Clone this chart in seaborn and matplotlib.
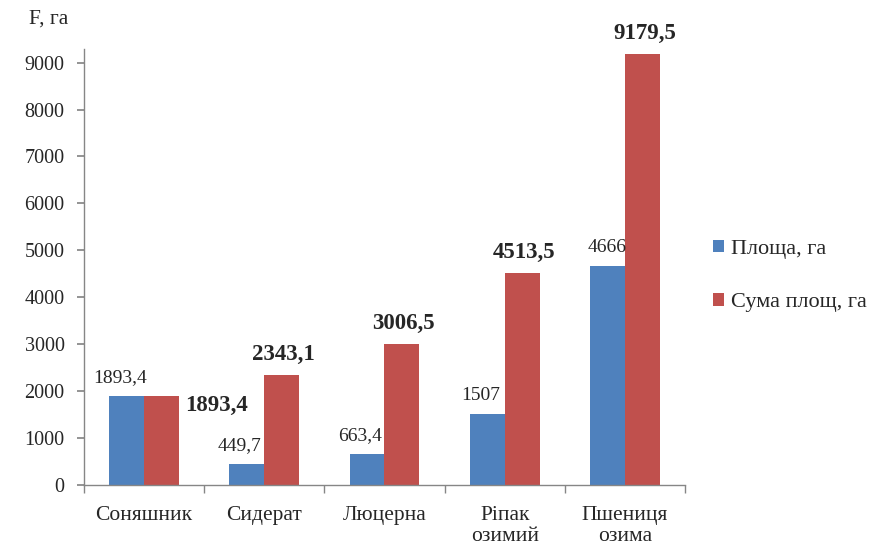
import numpy as np
import pandas as pd
import matplotlib.pyplot as plt
import seaborn as sns

cultures = ["Соняшник", "Сидерат", "Люцерна", "Ріпак\nозимий", "Пшениця\nозима"]
area = [1893.4, 449.7, 663.4, 1507, 4666]
area_sum = [1893.4, 2343.1, 3006.5, 4513.5, 9179.5]
series = ["Площа, га", "Сума площ, га"]
colors = ["#4F81BD", "#C0504D"]
yticks = list(range(0, 10000, 1000))


def fmt(v):
    return f"{v:g}".replace(".", ",")


if __name__ == "__main__":

    d = pd.DataFrame({
        "culture": cultures * 2,
        "value": area + area_sum,
        "series": [series[0]] * len(cultures) + [series[1]] * len(cultures),
    })

    sns.set_theme(style="white")
    plt.rcParams["font.family"] = ["Liberation Serif", "DejaVu Serif"]

    fig = plt.figure(figsize=(8.7, 5.45), dpi=100)
    ax = fig.add_axes([84 / 870, 1 - 485 / 545, (685 - 84) / 870, (485 - 49) / 545])

    sns.barplot(data=d, x="culture", y="value", hue="series", palette=colors,
                width=0.58, saturation=1, edgecolor="none", linewidth=0, ax=ax)

    ax.set_ylim(0, 9290)
    ax.set_xlim(-0.5, len(cultures) - 0.5)
    ax.set_yticks(yticks)
    ax.set_xlabel("")
    ax.set_ylabel("")

    for s in ["top", "right"]:
        ax.spines[s].set_visible(False)
    for s in ["left", "bottom"]:
        ax.spines[s].set_color("#868686")
        ax.spines[s].set_linewidth(1)

    ax.tick_params(axis="y", which="major", left=True, length=5, color="#868686",
                   labelsize=14.5, pad=9)
    ax.tick_params(axis="x", which="major", bottom=False, labelsize=15.5, pad=9)
    ax.set_xticks(np.arange(len(cultures) + 1) - 0.5, minor=True)
    ax.tick_params(axis="x", which="minor", bottom=True, length=6, color="#868686")
    ax.set_xticklabels(cultures, linespacing=1.15, va="top")

    # value labels
    blue = ax.containers[0]
    red = ax.containers[1]
    for i, p in enumerate(blue):
        cx = p.get_x() + p.get_width() / 2
        dx = 0 if i == len(cultures) - 1 else -7
        ax.annotate(fmt(area[i]), (cx, p.get_height()), xytext=(dx, 10),
                    textcoords="offset pixels", ha="center", va="bottom",
                    fontsize=14)
    for i, p in enumerate(red):
        cx = p.get_x() + p.get_width() / 2
        if i == 0:
            ax.annotate(fmt(area_sum[i]), (p.get_x() + p.get_width(), p.get_height()),
                        xytext=(6, -9), textcoords="offset pixels", ha="left",
                        va="center", fontsize=16.5, fontweight="bold")
        else:
            ax.annotate(fmt(area_sum[i]), (cx, p.get_height()), xytext=(2, 10),
                        textcoords="offset pixels", ha="center", va="bottom",
                        fontsize=16.5, fontweight="bold")

    fig.text(29 / 870, 1 - 19 / 545, "F, га", fontsize=15.5, ha="left", va="center")

    ax.legend(loc="center left", bbox_to_anchor=(713 / 870, 1 - 276 / 545),
              bbox_transform=fig.transFigure, frameon=False, fontsize=16,
              handlelength=0.5, handleheight=0.5, handletextpad=0.3,
              labelspacing=1.55, borderpad=0, borderaxespad=0)

    plt.savefig("out.png", dpi=100)
    plt.close()
